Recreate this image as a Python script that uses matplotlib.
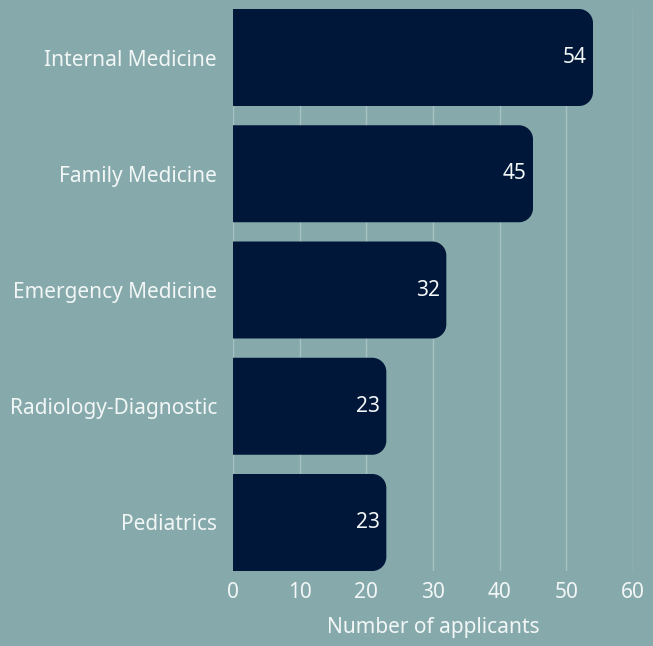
import matplotlib
matplotlib.use("Agg")
import matplotlib.pyplot as plt
from matplotlib.path import Path
from matplotlib.patches import PathPatch

categories = ["Internal Medicine", "Family Medicine", "Emergency Medicine",
              "Radiology-Diagnostic", "Pediatrics"]
values = [54, 45, 32, 23, 23]
xticks = [0, 10, 20, 30, 40, 50, 60]
xlabel = "Number of applicants"

BG = "#86aaab"
BAR = "#01173a"
TXT = "#f2f6f6"
GRID = "#a6c2c2"
FS = 15

plt.rcParams['font.family'] = ['Noto Sans', 'DejaVu Sans']

fig = plt.figure(figsize=(6.53, 6.46), dpi=100, facecolor=BG)
ax = fig.add_axes([233/653, 1-571/646, 400/653, 562/646])
ax.set_facecolor(BG)

ypos = list(range(len(categories)))
bh = 97/116.25
bars = ax.barh(ypos, values, height=bh, color=BAR)
ax.set_xlim(0, 60)
ax.set_ylim(len(categories)-1+bh/2, -bh/2)

# rounded right corners
px_per_x = 400/60
px_per_y = 562/(len(categories)-1+bh)
r = 14
rx, ry = r/px_per_x, r/px_per_y
k = 0.5523
for b in bars:
    x0, y0 = b.get_x(), b.get_y()
    w, h = b.get_width(), b.get_height()
    x1, y1 = x0+w, y0+h
    verts = [(x0, y0), (x1-rx, y0),
             (x1-rx+k*rx, y0), (x1, y0+ry-k*ry), (x1, y0+ry),
             (x1, y1-ry),
             (x1, y1-ry+k*ry), (x1-rx+k*rx, y1), (x1-rx, y1),
             (x0, y1), (x0, y0)]
    codes = [Path.MOVETO, Path.LINETO,
             Path.CURVE4, Path.CURVE4, Path.CURVE4,
             Path.LINETO,
             Path.CURVE4, Path.CURVE4, Path.CURVE4,
             Path.LINETO, Path.CLOSEPOLY]
    b.set_visible(False)
    ax.add_patch(PathPatch(Path(verts, codes), facecolor=BAR, edgecolor='none', zorder=3))
    ax.text(x1 - 1.0, b.get_y()+h/2, str(int(w)), ha='right', va='center',
            color=TXT, fontsize=FS, zorder=4)

ax.set_xticks(xticks)
ax.grid(axis='x', color=GRID, linewidth=1)
ax.set_axisbelow(True)
ax.set_yticks(ypos)
ax.set_yticklabels(categories)
ax.tick_params(axis='both', length=0, colors=TXT, labelsize=FS)
ax.tick_params(axis='y', pad=11.5)
ax.tick_params(axis='x', pad=8)
for s in ax.spines.values():
    s.set_visible(False)
ax.set_xlabel(xlabel, color=TXT, fontsize=FS, labelpad=10)

fig.savefig("out.png", dpi=100, facecolor=BG)
